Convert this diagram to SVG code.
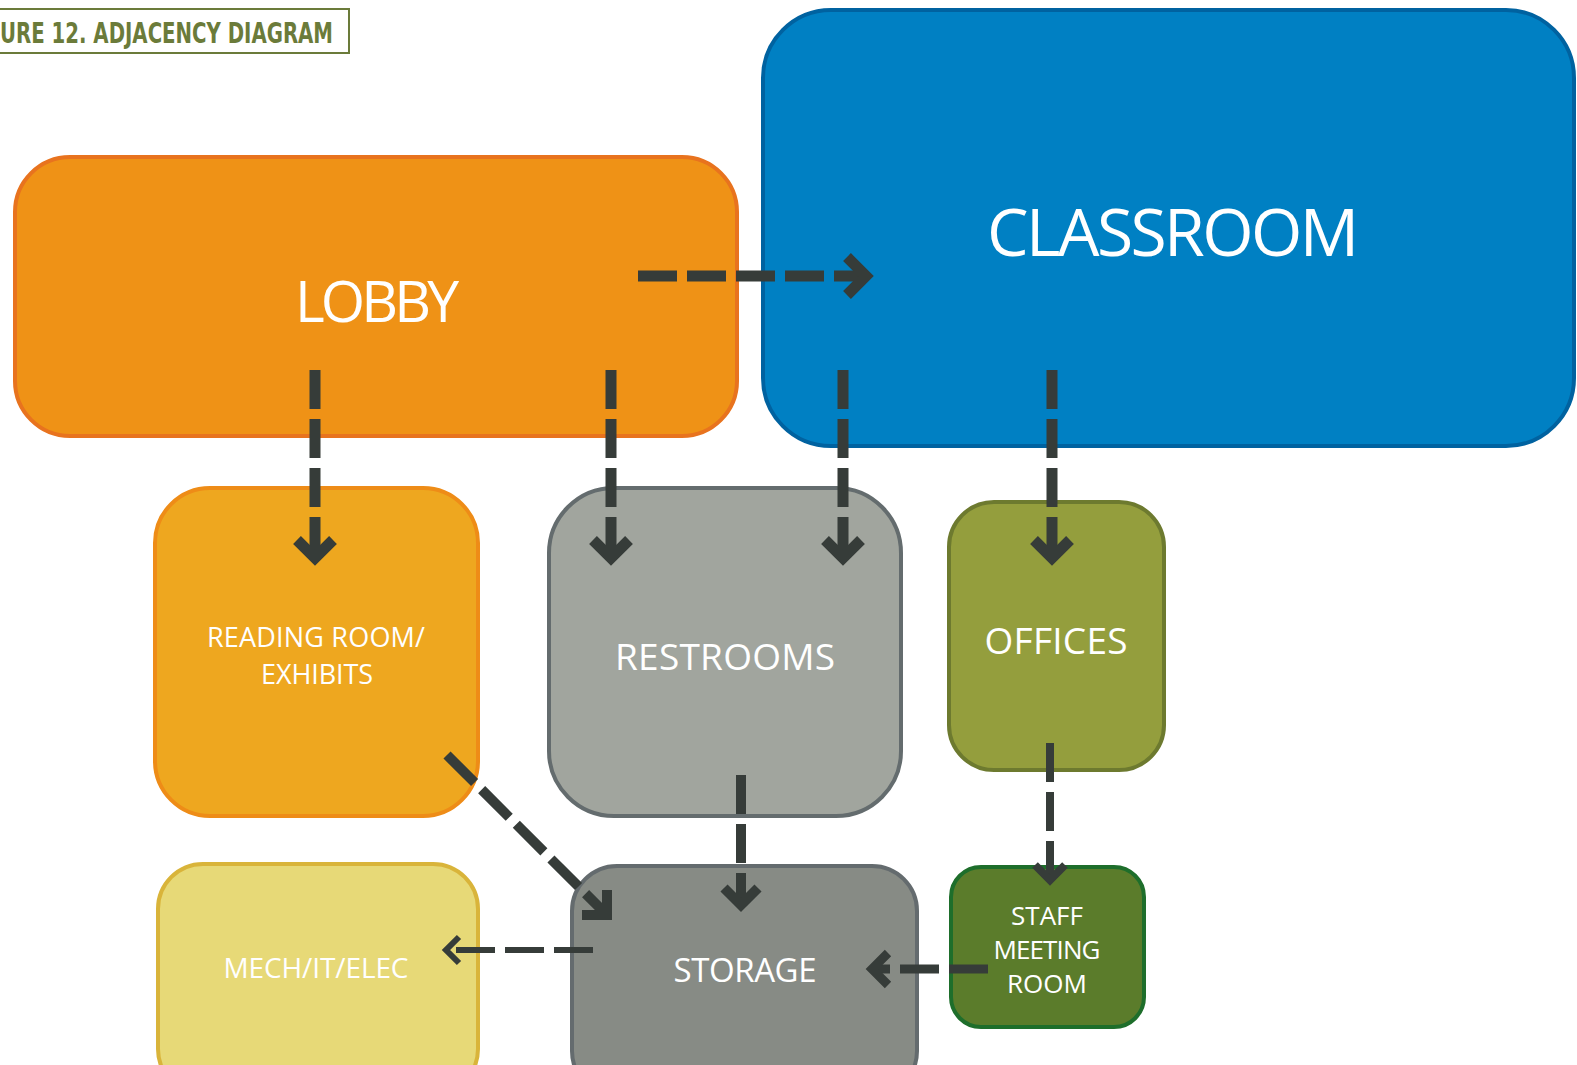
<svg xmlns="http://www.w3.org/2000/svg" width="1577" height="1065" viewBox="0 0 1577 1065">
<style>
.lbl{font-family:"Open Sans","Noto Sans",sans-serif;fill:#ffffff;text-anchor:middle}
.box{stroke-width:4}
.dash{fill:none;stroke:#363c39;stroke-dasharray:39 10}
.head{fill:none;stroke:#363c39;stroke-linejoin:miter;stroke-miterlimit:10}
</style>
<rect width="1577" height="1065" fill="#ffffff"/>
<g id="title">
<rect x="-4" y="9" width="353" height="44" fill="none" stroke="#6b7b3a" stroke-width="2"/>
<text x="0" y="43" font-family="'Liberation Sans Narrow','DejaVu Sans Condensed','Liberation Sans',sans-serif" font-weight="bold" font-size="28" fill="#6b7b3a" textLength="333" lengthAdjust="spacingAndGlyphs">URE 12. ADJACENCY DIAGRAM</text>
</g>
<g id="lobby">
<rect class="box" x="15" y="157" width="722" height="279" rx="55" fill="#ef9216" stroke="#e8731e"/>
<text class="lbl" x="377" y="322" font-size="57" textLength="164">LOBBY</text>
</g>
<g id="classroom">
<rect class="box" x="763" y="10" width="811" height="436" rx="68" fill="#0080c3" stroke="#0062a0"/>
<text class="lbl" x="1173" y="256" font-size="66" textLength="372">CLASSROOM</text>
</g>
<g id="reading">
<rect class="box" x="155" y="488" width="323" height="328" rx="55" fill="#eea71f" stroke="#ee8c17"/>
<text class="lbl" x="316" y="647" font-size="27" textLength="218">READING ROOM/</text>
<text class="lbl" x="317" y="684" font-size="27" textLength="112">EXHIBITS</text>
</g>
<g id="restrooms">
<rect class="box" x="549" y="488" width="352" height="328" rx="65" fill="#a1a59e" stroke="#646c6e"/>
<text class="lbl" x="725" y="670" font-size="37" textLength="220">RESTROOMS</text>
</g>
<g id="offices">
<rect class="box" x="949" y="502" width="215" height="268" rx="45" fill="#949e3d" stroke="#6d7a2f"/>
<text class="lbl" x="1056" y="654" font-size="37" textLength="143">OFFICES</text>
</g>
<g id="mech">
<rect class="box" x="158" y="864" width="320" height="230" rx="45" fill="#e7d977" stroke="#d9b43a"/>
<text class="lbl" x="316" y="978" font-size="28" textLength="185">MECH/IT/ELEC</text>
</g>
<g id="storage">
<rect class="box" x="572" y="866" width="345" height="230" rx="45" fill="#878b85" stroke="#646b6e"/>
<text class="lbl" x="745" y="982" font-size="33" textLength="143">STORAGE</text>
</g>
<g id="staff">
<rect class="box" x="951" y="867" width="193" height="160" rx="30" fill="#5b7c2b" stroke="#1e6e2b"/>
<text class="lbl" x="1047" y="925" font-size="26">STAFF</text>
<text class="lbl" x="1047" y="959" font-size="26" textLength="107">MEETING</text>
<text class="lbl" x="1047" y="993" font-size="26">ROOM</text>
</g>
<g id="connectors">
<line class="dash" x1="638" y1="276" x2="866" y2="276" stroke-width="11"/>
<polyline class="head" points="847,257 866,276 847,295" stroke-width="11"/>
<line class="dash" x1="315" y1="370" x2="315" y2="556" stroke-width="11"/>
<polyline class="head" points="297,540 315,558 333,540" stroke-width="11"/>
<line class="dash" x1="611" y1="370" x2="611" y2="556" stroke-width="11"/>
<polyline class="head" points="593,540 611,558 629,540" stroke-width="11"/>
<line class="dash" x1="843" y1="370" x2="843" y2="556" stroke-width="11"/>
<polyline class="head" points="825,540 843,558 861,540" stroke-width="11"/>
<line class="dash" x1="1052" y1="370" x2="1052" y2="556" stroke-width="11"/>
<polyline class="head" points="1034,540 1052,558 1070,540" stroke-width="11"/>
<line class="dash" x1="447" y1="755" x2="606" y2="914" stroke-width="10"/>
<polyline class="head" points="607,890 607,915 582,915" stroke-width="10"/>
<line class="dash" x1="741" y1="775" x2="741" y2="904" stroke-width="10"/>
<polyline class="head" points="724,888 741,905 758,888" stroke-width="10"/>
<line class="dash" x1="1050" y1="743" x2="1050" y2="878" stroke-width="8"/>
<polyline class="head" points="1035,865 1050,880 1065,865" stroke-width="8"/>
<line class="dash" x1="593" y1="950" x2="446" y2="950" stroke-width="6"/>
<polyline class="head" points="459,937 446,950 459,963" stroke-width="6"/>
<line class="dash" x1="988" y1="969" x2="872" y2="969" stroke-width="9"/>
<polyline class="head" points="888,953 872,969 888,985" stroke-width="9"/>
</g>
</svg>
